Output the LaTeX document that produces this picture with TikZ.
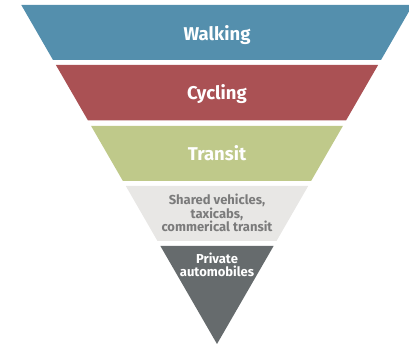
\documentclass[tikz,border=0pt]{standalone}
\usepackage{fontspec}
\setmainfont{Fira Sans}
\definecolor{walkc}{HTML}{548FAD}
\definecolor{cyclec}{HTML}{AA5154}
\definecolor{transc}{HTML}{BFC98A}
\definecolor{sharec}{HTML}{E8E7E5}
\definecolor{privc}{HTML}{666B6D}
\definecolor{sharetxt}{HTML}{7B7B7B}
\tikzset{
  band/.style={draw=none},
  bigtxt/.style={text=white, font=\fontsize{18.5}{20}\selectfont\bfseries, anchor=base, inner sep=0pt},
  smalltxt/.style={font=\fontsize{13}{13.6}\selectfont\bfseries, align=center, inner sep=0pt},
}
\begin{document}
\begin{tikzpicture}[x=1pt,y=-1pt]
\useasboundingbox (0,0) rectangle (409,344);
\clip (0,0) rectangle (409,344);
% bands of one inverted triangle, apex (217,344)
\fill[band, walkc]  (21.3,5) -- (412.7,5) -- (381.0,60) -- (53.0,60) -- cycle;
\fill[band, cyclec] (55.9,65) -- (378.1,65) -- (346.0,120.5) -- (88.0,120.5) -- cycle;
\fill[band, transc] (91.0,125.8) -- (343.0,125.8) -- (311.1,181) -- (122.9,181) -- cycle;
\fill[band, sharec] (125.8,186) -- (308.2,186) -- (276.5,241) -- (157.5,241) -- cycle;
\fill[band, privc]  (160.4,246) -- (273.6,246) -- (217,344) -- cycle;
% labels
\node[bigtxt] (walk) at (217,41) {Walking};
\node[bigtxt] (cycle) at (217,99.5) {Cycling};
\node[bigtxt] (trans) at (217,161) {Transit};
\node[smalltxt, text=sharetxt] (share) at (217,213) {Shared vehicles,\\taxicabs,\\commerical transit};
\node[smalltxt, text=white] (priv) at (217,265) {Private\\automobiles};
\end{tikzpicture}
\end{document}
